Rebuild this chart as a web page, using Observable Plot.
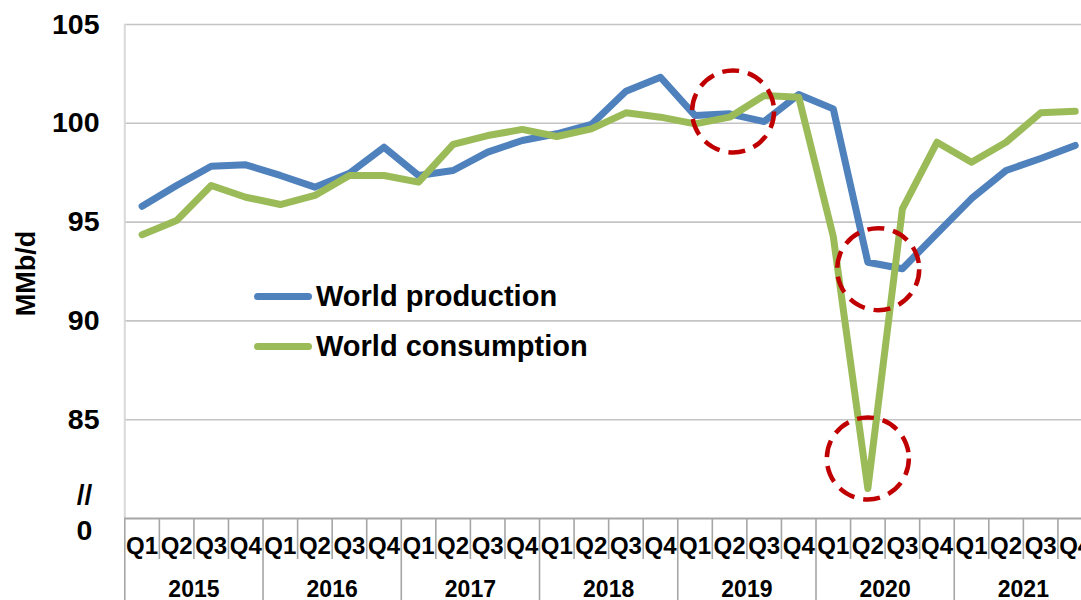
<!DOCTYPE html>
<html>
<head>
<meta charset="utf-8">
<script src="https://cdn.jsdelivr.net/npm/d3@7"></script>
<script src="https://cdn.jsdelivr.net/npm/@observablehq/plot@0.6"></script>
<style>
  html, body { margin: 0; padding: 0; background: #fff; overflow: hidden; }
  #wrap { position: relative; width: 1081px; height: 600px; overflow: hidden;
          font-family: "Liberation Sans", Arial, sans-serif; font-weight: bold; color: #000; }
  #wrap svg { display: block; }
  .leg { position: absolute; left: 254px; height: 34px; display: flex; align-items: center;
         font-size: 29px; white-space: nowrap; }
  .leg .sw { display: inline-block; width: 58px; height: 7px; border-radius: 4px; margin-right: 4px; }
</style>
</head>
<body>
<div id="wrap"></div>
<script>
// ---------------- data ----------------
const years = [2015, 2016, 2017, 2018, 2019, 2020, 2021];
const quarters = ["Q1", "Q2", "Q3", "Q4"];
const seriesNames = ["World production", "World consumption"];
const seriesColors = ["#4F81BD", "#9BBB59"];
const yTicks = [85, 90, 95, 100, 105];
const yBreakLabels = ["//", "0"];
const yTitle = "MMb/d";
const production = [
  95.8, 96.85, 97.83, 97.9,   // 2015
  97.36, 96.77, 97.47, 98.79, // 2016
  97.36, 97.61, 98.54, 99.13, // 2017
  99.47, 99.94, 101.62, 102.33, // 2018
  100.39, 100.48, 100.09, 101.46, // 2019
  100.73, 92.97, 92.64, 94.42, // 2020
  96.19, 97.61, 98.22, 98.88  // 2021
];
const consumption = [
  94.36, 95.08, 96.85, 96.26, // 2015
  95.89, 96.35, 97.36, 97.36, // 2016
  97.02, 98.93, 99.38, 99.69, // 2017
  99.33, 99.72, 100.53, 100.31, // 2018
  99.97, 100.31, 101.41, 101.32, // 2019
  94.27, 81.52, 95.67, 99.04, // 2020
  98.03, 99.04, 100.53, 100.61 // 2021
];
const highlightQuarters = ["2019 Q2", "2020 Q2", "2020 Q2"];
const highlightValues = [100.6, 92.62, 83.04];

// ---------------- derived tables ----------------
const rows = [];
years.forEach((yr, yi) => quarters.forEach((q, qi) => rows.push({key: `${yr} ${q}`, year: yr, q, i: yi * 4 + qi})));
const prodData = rows.map(r => ({...r, series: seriesNames[0], value: production[r.i]}));
const consData = rows.map(r => ({...r, series: seriesNames[1], value: consumption[r.i]}));
const keyIndex = new Map(rows.map(r => [r.key, r.i]));
const circleNudge = [0.1, 0.3, 0]; // small horizontal nudges (in quarter widths) of the callout circles
const highlights = highlightQuarters.map((k, j) => ({x: keyIndex.get(k) + 0.5 + circleNudge[j], y: highlightValues[j]}));
const nQ = rows.length;
const quarterDividers = d3.range(1, nQ).filter(i => i % 4 !== 0);
const yearDividers = d3.range(0, nQ + 1, 4);

const font = "Liberation Sans, Arial, sans-serif";
const gray = "#a6a6a6";

const chart = Plot.plot({
  width: 1081,
  height: 600,
  marginLeft: 124,
  marginRight: 0,
  marginTop: 24,
  marginBottom: 82,
  style: {fontFamily: font, fontWeight: "bold", color: "#000", background: "#fff", overflow: "hidden"},
  x: {type: "linear", domain: [0, nQ], range: [124.3, 124.3 + nQ * 34.56]},
  y: {domain: [80, 105], range: [518, 24]},
  color: {domain: seriesNames, range: seriesColors},
  marks: [
    // gridlines
    Plot.ruleY(yTicks, {stroke: "#c4c4c4", strokeWidth: 1.6}),
    // left vertical axis line inside plot
    Plot.ruleX([0], {y1: 80, y2: 105, stroke: "#d9d9d9", strokeWidth: 2}),
    // bottom axis line
    Plot.ruleY([80], {stroke: gray, strokeWidth: 2}),
    // quarter dividers (short) and year dividers (long)
    Plot.axisX({ticks: quarterDividers, tickSize: 41, fill: "none", stroke: gray, strokeWidth: 1.6, label: null}),
    Plot.axisX({ticks: yearDividers, tickSize: 100, fill: "none", stroke: gray, strokeWidth: 1.6, label: null}),
    // quarter labels
    Plot.text(rows, {x: d => d.i + 0.5, text: "q", frameAnchor: "bottom", lineAnchor: "middle", dy: 28,
                     fontSize: 24, fontWeight: "bold", fill: "#000"}),
    // year labels
    Plot.text(years, {x: (d, i) => i * 4 + 2, text: d => String(d), frameAnchor: "bottom", lineAnchor: "middle", dy: 71,
                      fontSize: 23, fontWeight: "bold", fill: "#000"}),
    // y axis tick labels
    Plot.axisY({ticks: yTicks, tickSize: 0, tickPadding: 25, fontSize: 28.5, fontWeight: "bold", label: null, fill: "#000"}),
    // axis break marks
    Plot.text([yBreakLabels[0]], {y: [80], text: d => d, frameAnchor: "left", dx: -40, dy: -23,
                                  fontSize: 28, fontWeight: "bold", fill: "#000", textAnchor: "middle"}),
    Plot.text([yBreakLabels[1]], {y: [80], text: d => d, frameAnchor: "left", dx: -40, dy: 12,
                                  fontSize: 28.5, fontWeight: "bold", fill: "#000", textAnchor: "middle"}),
    // y axis title
    Plot.text([yTitle], {text: d => d, frameAnchor: "left", dx: -98, dy: 2, rotate: -90, textAnchor: "middle",
                         fontSize: 27, fontWeight: "bold", fill: "#000"}),
    // series lines
    Plot.line(prodData, {x: d => d.i + 0.5, y: "value", stroke: "series", strokeWidth: 7,
                         strokeLinejoin: "round", strokeLinecap: "round"}),
    Plot.line(consData, {x: d => d.i + 0.5, y: "value", stroke: "series", strokeWidth: 7,
                         strokeLinejoin: "round", strokeLinecap: "round"}),
    // callout circles
    Plot.dot(highlights, {x: "x", y: "y", r: 41, fill: "none", stroke: "#C00000",
                          strokeWidth: 4.5, strokeDasharray: "17,9"})
  ]
});

const wrap = document.getElementById("wrap");
wrap.appendChild(chart);

// legend (inside the plot area)
const legendTops = [279, 329];
seriesNames.forEach((name, k) => {
  const el = document.createElement("div");
  el.className = "leg";
  el.style.top = legendTops[k] + "px";
  const sw = document.createElement("span");
  sw.className = "sw";
  sw.style.background = seriesColors[k];
  el.appendChild(sw);
  el.appendChild(document.createTextNode(name));
  wrap.appendChild(el);
});
</script>
</body>
</html>
